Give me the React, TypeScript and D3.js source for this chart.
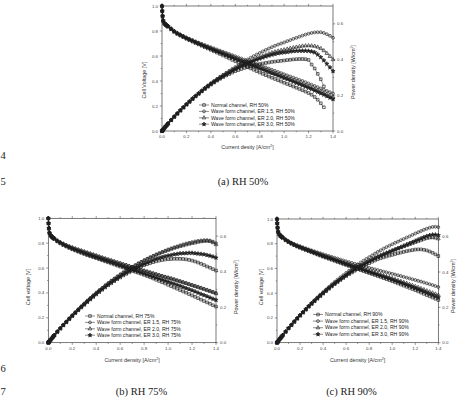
import React from "react";
import * as d3 from "d3";

// Current density grid shared by every measured curve [A/cm2]
const CURRENT = [
  0, 0.002, 0.005, 0.01, 0.02, 0.03, 0.04, 0.05,
  0.075, 0.1, 0.125, 0.15, 0.175, 0.2, 0.225, 0.25, 0.275, 0.3,
  0.325, 0.35, 0.375, 0.4, 0.425, 0.45, 0.475, 0.5, 0.525, 0.55,
  0.575, 0.6, 0.625, 0.65, 0.675, 0.7, 0.725, 0.75, 0.775, 0.8,
  0.825, 0.85, 0.875, 0.9, 0.925, 0.95, 0.975, 1.0, 1.025, 1.05,
  1.075, 1.1, 1.125, 1.15, 1.175, 1.2, 1.225, 1.25, 1.275, 1.3,
  1.325, 1.35, 1.375, 1.4,
];

// ---------- RH 50% ----------
const RH50_V_NORMAL = [
  1.0, 0.96, 0.92, 0.88, 0.858, 0.848, 0.841, 0.834,
  0.813, 0.793, 0.777, 0.763, 0.75, 0.738, 0.726, 0.715, 0.704, 0.693,
  0.682, 0.671, 0.66, 0.649, 0.638, 0.627, 0.616, 0.604, 0.593, 0.581,
  0.569, 0.558, 0.546, 0.535, 0.524, 0.512, 0.501, 0.49, 0.479, 0.468,
  0.457, 0.447, 0.436, 0.426, 0.416, 0.406, 0.396, 0.386, 0.376, 0.366,
  0.356, 0.346, 0.336, 0.326, 0.315, 0.304, 0.29, 0.272, 0.25, 0.222,
  0.19,
];
const RH50_V_ER15 = [
  1.0, 0.96, 0.92, 0.885, 0.865, 0.855, 0.847, 0.84,
  0.82, 0.8, 0.785, 0.772, 0.76, 0.748, 0.737, 0.727, 0.717, 0.707,
  0.697, 0.688, 0.679, 0.67, 0.661, 0.652, 0.643, 0.634, 0.625, 0.616,
  0.607, 0.598, 0.589, 0.58, 0.571, 0.562, 0.553, 0.544, 0.535, 0.526,
  0.517, 0.508, 0.499, 0.49, 0.481, 0.472, 0.463, 0.454, 0.445, 0.436,
  0.427, 0.418, 0.409, 0.4, 0.39, 0.38, 0.37, 0.36, 0.35, 0.34,
  0.33, 0.32, 0.31, 0.3,
];
const RH50_V_ER20 = [
  1.0, 0.96, 0.92, 0.883, 0.862, 0.852, 0.845, 0.838,
  0.818, 0.798, 0.782, 0.769, 0.756, 0.744, 0.733, 0.722, 0.711, 0.7,
  0.69, 0.68, 0.67, 0.66, 0.65, 0.64, 0.631, 0.622, 0.613, 0.603,
  0.594, 0.584, 0.575, 0.566, 0.556, 0.547, 0.537, 0.528, 0.518, 0.509,
  0.5, 0.49, 0.481, 0.471, 0.462, 0.452, 0.443, 0.433, 0.424, 0.414,
  0.405, 0.395, 0.386, 0.376, 0.366, 0.356, 0.346, 0.336, 0.326, 0.316,
  0.305, 0.294, 0.283, 0.272,
];
const RH50_V_ER30 = [
  1.0, 0.96, 0.92, 0.882, 0.86, 0.85, 0.843, 0.836,
  0.815, 0.795, 0.779, 0.766, 0.753, 0.741, 0.73, 0.719, 0.708, 0.697,
  0.687, 0.677, 0.667, 0.657, 0.647, 0.637, 0.627, 0.617, 0.607, 0.597,
  0.587, 0.577, 0.567, 0.557, 0.547, 0.537, 0.528, 0.518, 0.508, 0.499,
  0.49, 0.48, 0.471, 0.461, 0.452, 0.442, 0.433, 0.423, 0.414, 0.404,
  0.394, 0.384, 0.374, 0.364, 0.354, 0.344, 0.334, 0.323, 0.312, 0.301,
  0.29, 0.278, 0.266, 0.254,
];
const RH50_P_NORMAL = [
  0, 0.002, 0.005, 0.009, 0.017, 0.025, 0.034, 0.042,
  0.061, 0.079, 0.097, 0.114, 0.131, 0.148, 0.163, 0.179, 0.194, 0.208,
  0.222, 0.235, 0.248, 0.26, 0.271, 0.282, 0.292, 0.302, 0.311, 0.319,
  0.327, 0.335, 0.341, 0.347, 0.353, 0.358, 0.363, 0.367, 0.371, 0.375,
  0.378, 0.381, 0.384, 0.387, 0.389, 0.391, 0.393, 0.395, 0.397, 0.399,
  0.401, 0.402, 0.403, 0.403, 0.402, 0.398, 0.372, 0.35, 0.32, 0.29,
  0.25,
];
const RH50_P_ER15 = [
  0, 0.002, 0.005, 0.009, 0.017, 0.026, 0.034, 0.042,
  0.062, 0.08, 0.098, 0.116, 0.133, 0.15, 0.166, 0.182, 0.197, 0.212,
  0.227, 0.241, 0.255, 0.268, 0.28, 0.292, 0.304, 0.315, 0.326, 0.337,
  0.348, 0.358, 0.369, 0.379, 0.39, 0.4, 0.41, 0.419, 0.428, 0.437,
  0.446, 0.454, 0.462, 0.47, 0.477, 0.484, 0.49, 0.496, 0.503, 0.509,
  0.516, 0.522, 0.528, 0.534, 0.54, 0.545, 0.549, 0.552, 0.553, 0.553,
  0.549, 0.542, 0.533, 0.522,
];
const RH50_P_ER20 = [
  0, 0.002, 0.005, 0.009, 0.017, 0.026, 0.034, 0.042,
  0.061, 0.08, 0.098, 0.115, 0.132, 0.149, 0.165, 0.181, 0.196, 0.21,
  0.224, 0.238, 0.251, 0.264, 0.276, 0.288, 0.3, 0.311, 0.321, 0.331,
  0.341, 0.35, 0.359, 0.368, 0.376, 0.384, 0.392, 0.4, 0.408, 0.415,
  0.421, 0.427, 0.433, 0.439, 0.444, 0.448, 0.452, 0.455, 0.459, 0.463,
  0.467, 0.47, 0.473, 0.476, 0.477, 0.478, 0.477, 0.475, 0.47, 0.462,
  0.45, 0.435, 0.418, 0.4,
];
const RH50_P_ER30 = [
  0, 0.002, 0.005, 0.009, 0.017, 0.026, 0.034, 0.042,
  0.061, 0.08, 0.097, 0.115, 0.132, 0.148, 0.164, 0.18, 0.195, 0.209,
  0.223, 0.237, 0.25, 0.262, 0.274, 0.285, 0.296, 0.306, 0.316, 0.326,
  0.336, 0.345, 0.354, 0.362, 0.37, 0.378, 0.385, 0.392, 0.399, 0.405,
  0.411, 0.417, 0.422, 0.427, 0.431, 0.435, 0.438, 0.44, 0.442, 0.445,
  0.447, 0.448, 0.449, 0.449, 0.449, 0.448, 0.445, 0.44, 0.428, 0.413,
  0.395, 0.376, 0.356, 0.335,
];

// ---------- RH 75% ----------
const RH75_V_NORMAL = [
  1.0, 0.96, 0.92, 0.88, 0.86, 0.85, 0.84, 0.833,
  0.814, 0.798, 0.785, 0.773, 0.762, 0.751, 0.741, 0.731, 0.722, 0.713,
  0.704, 0.696, 0.688, 0.68, 0.671, 0.663, 0.654, 0.646, 0.637, 0.629,
  0.62, 0.612, 0.604, 0.595, 0.587, 0.579, 0.57, 0.562, 0.554, 0.545,
  0.536, 0.526, 0.516, 0.506, 0.496, 0.486, 0.476, 0.465, 0.455, 0.444,
  0.434, 0.423, 0.412, 0.402, 0.391, 0.38, 0.369, 0.358, 0.346, 0.335,
  0.324, 0.313, 0.301, 0.29,
];
const RH75_V_ER15 = [
  1.0, 0.96, 0.92, 0.885, 0.865, 0.855, 0.847, 0.84,
  0.822, 0.808, 0.796, 0.785, 0.775, 0.766, 0.757, 0.749, 0.741, 0.733,
  0.725, 0.717, 0.709, 0.701, 0.693, 0.685, 0.677, 0.67, 0.662, 0.655,
  0.647, 0.64, 0.632, 0.625, 0.617, 0.61, 0.602, 0.595, 0.587, 0.58,
  0.573, 0.566, 0.559, 0.552, 0.545, 0.538, 0.531, 0.525, 0.518, 0.511,
  0.503, 0.496, 0.488, 0.481, 0.473, 0.465, 0.458, 0.45, 0.442, 0.434,
  0.426, 0.418, 0.409, 0.4,
];
const RH75_V_ER20 = [
  1.0, 0.96, 0.92, 0.884, 0.864, 0.854, 0.845, 0.838,
  0.82, 0.806, 0.794, 0.783, 0.773, 0.764, 0.755, 0.747, 0.739, 0.731,
  0.723, 0.715, 0.707, 0.699, 0.691, 0.683, 0.675, 0.667, 0.66, 0.652,
  0.644, 0.637, 0.629, 0.622, 0.614, 0.607, 0.599, 0.592, 0.584, 0.577,
  0.57, 0.563, 0.555, 0.548, 0.541, 0.534, 0.527, 0.52, 0.513, 0.506,
  0.498, 0.491, 0.483, 0.476, 0.468, 0.46, 0.452, 0.445, 0.437, 0.429,
  0.42, 0.412, 0.403, 0.394,
];
const RH75_V_ER30 = [
  1.0, 0.96, 0.92, 0.882, 0.862, 0.851, 0.842, 0.835,
  0.816, 0.801, 0.788, 0.776, 0.765, 0.755, 0.745, 0.736, 0.727, 0.718,
  0.709, 0.701, 0.693, 0.685, 0.677, 0.669, 0.661, 0.653, 0.645, 0.637,
  0.628, 0.62, 0.612, 0.604, 0.596, 0.588, 0.579, 0.571, 0.563, 0.555,
  0.547, 0.539, 0.531, 0.523, 0.514, 0.506, 0.498, 0.49, 0.481, 0.473,
  0.464, 0.456, 0.447, 0.438, 0.429, 0.42, 0.411, 0.401, 0.391, 0.382,
  0.372, 0.362, 0.352, 0.343,
];
const RH75_P_NORMAL = [
  0, 0.002, 0.005, 0.009, 0.017, 0.026, 0.034, 0.042,
  0.061, 0.08, 0.098, 0.116, 0.133, 0.15, 0.167, 0.183, 0.199, 0.214,
  0.229, 0.244, 0.258, 0.272, 0.285, 0.298, 0.311, 0.323, 0.334, 0.346,
  0.357, 0.367, 0.378, 0.387, 0.396, 0.405, 0.413, 0.422, 0.429, 0.436,
  0.442, 0.448, 0.453, 0.458, 0.462, 0.465, 0.468, 0.47, 0.471, 0.472,
  0.472, 0.472, 0.471, 0.469, 0.466, 0.462, 0.457, 0.451, 0.444, 0.437,
  0.429, 0.422, 0.414, 0.406,
];
const RH75_P_ER15 = [
  0, 0.002, 0.005, 0.009, 0.017, 0.026, 0.034, 0.042,
  0.062, 0.081, 0.1, 0.118, 0.136, 0.153, 0.17, 0.187, 0.204, 0.22,
  0.236, 0.251, 0.266, 0.28, 0.295, 0.308, 0.322, 0.335, 0.348, 0.36,
  0.372, 0.384, 0.395, 0.406, 0.416, 0.427, 0.436, 0.446, 0.455, 0.464,
  0.473, 0.481, 0.489, 0.497, 0.504, 0.511, 0.518, 0.525, 0.531, 0.537,
  0.542, 0.548, 0.553, 0.558, 0.562, 0.566, 0.57, 0.573, 0.575, 0.577,
  0.577, 0.575, 0.569, 0.56,
];
const RH75_P_ER20 = [
  0, 0.002, 0.005, 0.009, 0.017, 0.026, 0.034, 0.042,
  0.062, 0.081, 0.099, 0.117, 0.135, 0.153, 0.17, 0.187, 0.203, 0.219,
  0.235, 0.25, 0.265, 0.28, 0.294, 0.307, 0.321, 0.334, 0.347, 0.359,
  0.371, 0.382, 0.393, 0.404, 0.415, 0.425, 0.434, 0.444, 0.453, 0.462,
  0.47, 0.478, 0.486, 0.493, 0.5, 0.507, 0.514, 0.52, 0.526, 0.532,
  0.537, 0.542, 0.546, 0.551, 0.555, 0.559, 0.562, 0.566, 0.569, 0.571,
  0.572, 0.57, 0.563, 0.552,
];
const RH75_P_ER30 = [
  0, 0.002, 0.005, 0.009, 0.017, 0.026, 0.034, 0.042,
  0.061, 0.08, 0.099, 0.116, 0.134, 0.151, 0.168, 0.184, 0.2, 0.215,
  0.23, 0.245, 0.26, 0.274, 0.288, 0.301, 0.314, 0.327, 0.339, 0.35,
  0.361, 0.372, 0.383, 0.393, 0.402, 0.412, 0.42, 0.428, 0.436, 0.444,
  0.451, 0.458, 0.465, 0.471, 0.476, 0.481, 0.486, 0.49, 0.493, 0.497,
  0.499, 0.502, 0.503, 0.504, 0.505, 0.505, 0.503, 0.501, 0.499, 0.497,
  0.493, 0.489, 0.484, 0.478,
];

// ---------- RH 90% ----------
const RH90_V_NORMAL = [
  1.0, 0.965, 0.93, 0.895, 0.874, 0.862, 0.854, 0.847,
  0.828, 0.813, 0.8, 0.788, 0.777, 0.767, 0.758, 0.749, 0.74, 0.731,
  0.722, 0.713, 0.704, 0.695, 0.687, 0.678, 0.67, 0.662, 0.653, 0.645,
  0.636, 0.628, 0.62, 0.611, 0.603, 0.595, 0.587, 0.579, 0.571, 0.563,
  0.555, 0.547, 0.539, 0.531, 0.522, 0.514, 0.506, 0.497, 0.488, 0.479,
  0.47, 0.461, 0.452, 0.443, 0.434, 0.425, 0.415, 0.405, 0.395, 0.385,
  0.375, 0.365, 0.355, 0.345,
];
const RH90_V_ER15 = [
  1.0, 0.965, 0.93, 0.9, 0.88, 0.868, 0.86, 0.853,
  0.835, 0.82, 0.808, 0.797, 0.788, 0.78, 0.771, 0.763, 0.755, 0.747,
  0.739, 0.731, 0.723, 0.715, 0.708, 0.701, 0.694, 0.687, 0.68, 0.672,
  0.665, 0.658, 0.651, 0.645, 0.638, 0.631, 0.625, 0.618, 0.611, 0.605,
  0.599, 0.593, 0.587, 0.581, 0.575, 0.569, 0.563, 0.557, 0.551, 0.545,
  0.539, 0.532, 0.526, 0.52, 0.513, 0.507, 0.5, 0.494, 0.487, 0.48,
  0.473, 0.466, 0.458, 0.45,
];
const RH90_V_ER20 = [
  1.0, 0.965, 0.93, 0.898, 0.877, 0.865, 0.857, 0.85,
  0.832, 0.817, 0.804, 0.793, 0.783, 0.774, 0.765, 0.756, 0.748, 0.739,
  0.73, 0.722, 0.713, 0.705, 0.697, 0.689, 0.681, 0.672, 0.664, 0.656,
  0.648, 0.64, 0.633, 0.625, 0.618, 0.61, 0.603, 0.595, 0.588, 0.58,
  0.573, 0.565, 0.558, 0.55, 0.543, 0.535, 0.528, 0.52, 0.512, 0.504,
  0.496, 0.488, 0.48, 0.472, 0.464, 0.455, 0.447, 0.438, 0.429, 0.42,
  0.411, 0.403, 0.394, 0.385,
];
const RH90_V_ER30 = [
  1.0, 0.965, 0.93, 0.897, 0.876, 0.864, 0.856, 0.849,
  0.83, 0.815, 0.802, 0.79, 0.78, 0.771, 0.762, 0.753, 0.744, 0.735,
  0.726, 0.717, 0.709, 0.7, 0.692, 0.684, 0.676, 0.667, 0.659, 0.651,
  0.643, 0.635, 0.627, 0.619, 0.611, 0.603, 0.595, 0.588, 0.58, 0.572,
  0.564, 0.557, 0.549, 0.541, 0.533, 0.526, 0.518, 0.51, 0.502, 0.493,
  0.485, 0.476, 0.467, 0.458, 0.449, 0.44, 0.431, 0.422, 0.412, 0.403,
  0.393, 0.384, 0.374, 0.365,
];
const RH90_P_NORMAL = [
  0, 0.002, 0.005, 0.009, 0.017, 0.026, 0.034, 0.042,
  0.062, 0.081, 0.1, 0.118, 0.136, 0.153, 0.171, 0.187, 0.204, 0.219,
  0.235, 0.25, 0.264, 0.278, 0.292, 0.305, 0.318, 0.331, 0.343, 0.355,
  0.366, 0.377, 0.388, 0.397, 0.407, 0.417, 0.426, 0.434, 0.443, 0.45,
  0.458, 0.465, 0.472, 0.478, 0.483, 0.488, 0.493, 0.497, 0.502, 0.506,
  0.51, 0.514, 0.518, 0.521, 0.524, 0.527, 0.528, 0.528, 0.526, 0.522,
  0.516, 0.509, 0.5, 0.49,
];
const RH90_P_ER15 = [
  0, 0.002, 0.005, 0.009, 0.018, 0.026, 0.034, 0.043,
  0.063, 0.082, 0.101, 0.12, 0.138, 0.156, 0.173, 0.191, 0.208, 0.224,
  0.24, 0.256, 0.271, 0.286, 0.301, 0.315, 0.33, 0.344, 0.357, 0.37,
  0.382, 0.395, 0.407, 0.419, 0.431, 0.442, 0.453, 0.464, 0.474, 0.484,
  0.494, 0.504, 0.514, 0.523, 0.532, 0.541, 0.549, 0.557, 0.565, 0.572,
  0.58, 0.587, 0.595, 0.602, 0.61, 0.618, 0.625, 0.632, 0.639, 0.645,
  0.651, 0.655, 0.656, 0.654,
];
const RH90_P_ER20 = [
  0, 0.002, 0.005, 0.009, 0.018, 0.026, 0.034, 0.043,
  0.062, 0.082, 0.1, 0.119, 0.137, 0.155, 0.172, 0.189, 0.206, 0.222,
  0.237, 0.253, 0.267, 0.282, 0.296, 0.31, 0.323, 0.336, 0.349, 0.361,
  0.373, 0.384, 0.396, 0.406, 0.417, 0.427, 0.437, 0.446, 0.456, 0.464,
  0.473, 0.481, 0.489, 0.496, 0.503, 0.509, 0.515, 0.52, 0.526, 0.532,
  0.538, 0.544, 0.55, 0.556, 0.562, 0.568, 0.574, 0.58, 0.586, 0.591,
  0.594, 0.595, 0.593, 0.588,
];
const RH90_P_ER30 = [
  0, 0.002, 0.005, 0.009, 0.018, 0.026, 0.034, 0.042,
  0.062, 0.082, 0.1, 0.119, 0.137, 0.154, 0.171, 0.188, 0.205, 0.221,
  0.236, 0.251, 0.266, 0.28, 0.294, 0.308, 0.321, 0.334, 0.346, 0.358,
  0.37, 0.381, 0.392, 0.403, 0.413, 0.423, 0.433, 0.442, 0.451, 0.46,
  0.468, 0.476, 0.484, 0.491, 0.498, 0.505, 0.512, 0.52, 0.527, 0.534,
  0.541, 0.548, 0.555, 0.562, 0.569, 0.576, 0.583, 0.59, 0.597, 0.603,
  0.608, 0.611, 0.611, 0.608,
];

// Axis ticks
const CURRENT_TICKS = [0, 0.2, 0.4, 0.6, 0.8, 1.0, 1.2, 1.4];
const VOLT_TICKS = [0, 0.2, 0.4, 0.6, 0.8, 1.0];
const POWER_TICKS = [0, 0.2, 0.4, 0.6];

const SANS = "'Liberation Sans', Arial, sans-serif";
const SERIF = "'Liberation Serif', 'Times New Roman', serif";
const INK = "#1e1e1e";

const SYMBOLS = [d3.symbolSquare, d3.symbolCircle, d3.symbolTriangle, d3.symbolStar];
const SYMBOL_SIZES = [7, 6.5, 6, 5.5];
const SYMBOL_FILLED = [false, false, false, true];

type Layout = {
  x0: number; x1: number; y0: number; y1: number;
  legendX: number; legendY: number; legendDy: number;
  yTitleX: number; yTitleY: number; rTitleX: number; rTitleY: number;
  xTitleY: number;
};

type PanelProps = {
  layout: Layout;
  volts: number[][];
  powers: number[][];
  names: string[];
  xTitle: string;
  yTitle: string;
};

function Marker({ k, x, y }: { k: number; x: number; y: number }) {
  const d = d3.symbol().type(SYMBOLS[k]).size(SYMBOL_SIZES[k])() as string;
  return (
    <path
      d={d}
      transform={`translate(${x.toFixed(2)},${y.toFixed(2)})`}
      fill={SYMBOL_FILLED[k] ? INK : "none"}
      stroke={INK}
      strokeWidth={0.65}
    />
  );
}

function Sup({ text }: { text: string }) {
  // "[A/cm2]" style title with a raised 2
  const i = text.lastIndexOf("2");
  return (
    <>
      {text.slice(0, i)}
      <tspan dy={-1.8} fontSize="0.7em">2</tspan>
      <tspan dy={1.8}>{text.slice(i + 1)}</tspan>
    </>
  );
}

function Panel({ layout, volts, powers, names, xTitle, yTitle }: PanelProps) {
  const L = layout;
  const x = d3.scaleLinear().domain([0, 1.4]).range([L.x0, L.x1]);
  const yV = d3.scaleLinear().domain([0, 1]).range([L.y0, L.y1]);
  const yP = d3.scaleLinear().domain([0, 0.7]).range([L.y0, L.y1]);

  const series = (vals: number[], scale: d3.ScaleLinear<number, number>) =>
    vals.slice(0, CURRENT.length).map((v, i) => [x(CURRENT[i]), scale(v)] as [number, number]);

  const line = d3.line();
  const minorX = d3.range(0.1, 1.4, 0.2);
  const minorV = d3.range(0.1, 1.0, 0.2);
  const minorP = d3.range(0.1, 0.7, 0.2);
  const tickFont = 4.4;

  const groups: { pts: [number, number][]; k: number }[] = [];
  volts.forEach((v, k) => groups.push({ pts: series(v, yV), k }));
  powers.forEach((p, k) => groups.push({ pts: series(p, yP), k }));

  return (
    <g>
      {/* frame */}
      <rect x={L.x0} y={L.y1} width={L.x1 - L.x0} height={L.y0 - L.y1} fill="none" stroke="#333" strokeWidth={0.65} />

      {/* bottom and top ticks */}
      {CURRENT_TICKS.map((t) => (
        <g key={`xt${t}`}>
          <line x1={x(t)} x2={x(t)} y1={L.y0} y2={L.y0 + 2.2} stroke="#333" strokeWidth={0.5} />
          <line x1={x(t)} x2={x(t)} y1={L.y1} y2={L.y1 - 2.2} stroke="#333" strokeWidth={0.5} />
          <text x={x(t)} y={L.y0 + 7} fontSize={tickFont} fontFamily={SANS} textAnchor="middle" fill="#444">
            {t.toFixed(1)}
          </text>
        </g>
      ))}
      {minorX.map((t) => (
        <g key={`xm${t}`}>
          <line x1={x(t)} x2={x(t)} y1={L.y0} y2={L.y0 + 1.2} stroke="#333" strokeWidth={0.5} />
          <line x1={x(t)} x2={x(t)} y1={L.y1} y2={L.y1 - 1.2} stroke="#333" strokeWidth={0.5} />
        </g>
      ))}

      {/* left axis */}
      {VOLT_TICKS.map((t) => (
        <g key={`yt${t}`}>
          <line x1={L.x0} x2={L.x0 - 2.2} y1={yV(t)} y2={yV(t)} stroke="#333" strokeWidth={0.5} />
          <text x={L.x0 - 4} y={yV(t) + 1.5} fontSize={tickFont} fontFamily={SANS} textAnchor="end" fill="#444">
            {t.toFixed(1)}
          </text>
        </g>
      ))}
      {minorV.map((t) => (
        <line key={`ym${t}`} x1={L.x0} x2={L.x0 - 1.2} y1={yV(t)} y2={yV(t)} stroke="#333" strokeWidth={0.5} />
      ))}

      {/* right axis */}
      {POWER_TICKS.map((t) => (
        <g key={`pt${t}`}>
          <line x1={L.x1} x2={L.x1 + 2.2} y1={yP(t)} y2={yP(t)} stroke="#333" strokeWidth={0.5} />
          <text x={L.x1 + 4} y={yP(t) + 1.5} fontSize={tickFont} fontFamily={SANS} textAnchor="start" fill="#444">
            {t.toFixed(1)}
          </text>
        </g>
      ))}
      {minorP.map((t) => (
        <line key={`pm${t}`} x1={L.x1} x2={L.x1 + 1.2} y1={yP(t)} y2={yP(t)} stroke="#333" strokeWidth={0.5} />
      ))}

      {/* axis titles */}
      <text x={(L.x0 + L.x1) / 2} y={L.xTitleY} fontSize={5.4} fontFamily={SANS} textAnchor="middle" fill="#333">
        <Sup text={xTitle} />
      </text>
      <text
        transform={`translate(${L.yTitleX},${L.yTitleY}) rotate(-90)`}
        fontSize={5.4}
        fontFamily={SANS}
        textAnchor="middle"
        fill="#333"
      >
        {yTitle}
      </text>
      <text
        transform={`translate(${L.rTitleX},${L.rTitleY}) rotate(-90)`}
        fontSize={5.4}
        fontFamily={SANS}
        textAnchor="middle"
        fill="#333"
      >
        <Sup text="Power density [W/cm2]" />
      </text>

      {/* measured curves */}
      {groups.map((g, gi) => (
        <g key={`s${gi}`}>
          <path d={line(g.pts) ?? ""} fill="none" stroke={INK} strokeWidth={0.45} />
          {g.pts.map(([px, py], i) => (
            <Marker key={i} k={g.k} x={px} y={py} />
          ))}
        </g>
      ))}

      {/* legend */}
      {names.map((n, k) => {
        const ly = L.legendY + k * L.legendDy;
        return (
          <g key={`lg${k}`}>
            <line x1={L.legendX} x2={L.legendX + 10} y1={ly} y2={ly} stroke={INK} strokeWidth={0.5} />
            <Marker k={k} x={L.legendX + 5} y={ly} />
            <text x={L.legendX + 12} y={ly + 1.7} fontSize={5.1} fontFamily={SANS} fill="#222">
              {n}
            </text>
          </g>
        );
      })}
    </g>
  );
}

const LAYOUT_A: Layout = {
  x0: 162, x1: 333, y0: 131, y1: 6,
  legendX: 199, legendY: 105, legendDy: 6.4,
  yTitleX: 146, yTitleY: 80, rTitleX: 355, rTitleY: 72, xTitleY: 149,
};
const LAYOUT_B: Layout = {
  x0: 48.3, x1: 216, y0: 342.7, y1: 218.3,
  legendX: 85, legendY: 316, legendDy: 6.4,
  yTitleX: 30, yTitleY: 287, rTitleX: 238, rTitleY: 287, xTitleY: 362,
};
const LAYOUT_C: Layout = {
  x0: 277, x1: 438.3, y0: 342.7, y1: 219,
  legendX: 313, legendY: 314.5, legendDy: 6.6,
  yTitleX: 262.5, yTitleY: 287, rTitleX: 455, rTitleY: 286, xTitleY: 362,
};

const names = (rh: string) => [
  `Normal channel, RH ${rh}`,
  `Wave form channel, ER 1.5, RH ${rh}`,
  `Wave form channel, ER 2.0, RH ${rh}`,
  `Wave form channel, ER 3.0, RH ${rh}`,
];

export default function App() {
  return (
    <svg
      width={461}
      height={398}
      viewBox="0 0 461 398"
      style={{ position: "absolute", left: 0, top: 0, background: "white" }}
    >
      <rect width={461} height={398} fill="white" />
      <Panel
        layout={LAYOUT_A}
        volts={[RH50_V_NORMAL, RH50_V_ER15, RH50_V_ER20, RH50_V_ER30]}
        powers={[RH50_P_NORMAL, RH50_P_ER15, RH50_P_ER20, RH50_P_ER30]}
        names={names("50%")}
        xTitle="Current desity [A/cm2]"
        yTitle="Cell Voltage [V]"
      />
      <Panel
        layout={LAYOUT_B}
        volts={[RH75_V_NORMAL, RH75_V_ER15, RH75_V_ER20, RH75_V_ER30]}
        powers={[RH75_P_NORMAL, RH75_P_ER15, RH75_P_ER20, RH75_P_ER30]}
        names={names("75%")}
        xTitle="Current density [A/cm2]"
        yTitle="Cell voltage [V]"
      />
      <Panel
        layout={LAYOUT_C}
        volts={[RH90_V_NORMAL, RH90_V_ER15, RH90_V_ER20, RH90_V_ER30]}
        powers={[RH90_P_NORMAL, RH90_P_ER15, RH90_P_ER20, RH90_P_ER30]}
        names={names("90%")}
        xTitle="Current density [A/cm2]"
        yTitle="Cell voltage [V]"
      />

      {/* captions and manuscript line numbers */}
      <g fontFamily={SERIF} fontSize={10.5} fill="#222">
        <text x={243} y={185} textAnchor="middle">(a) RH 50%</text>
        <text x={141.5} y={395} textAnchor="middle">(b) RH 75%</text>
        <text x={351.5} y={395} textAnchor="middle">(c) RH 90%</text>
        <text x={0.5} y={159}>4</text>
        <text x={0.5} y={185}>5</text>
        <text x={0.5} y={372}>6</text>
        <text x={0.5} y={395}>7</text>
      </g>
    </svg>
  );
}
